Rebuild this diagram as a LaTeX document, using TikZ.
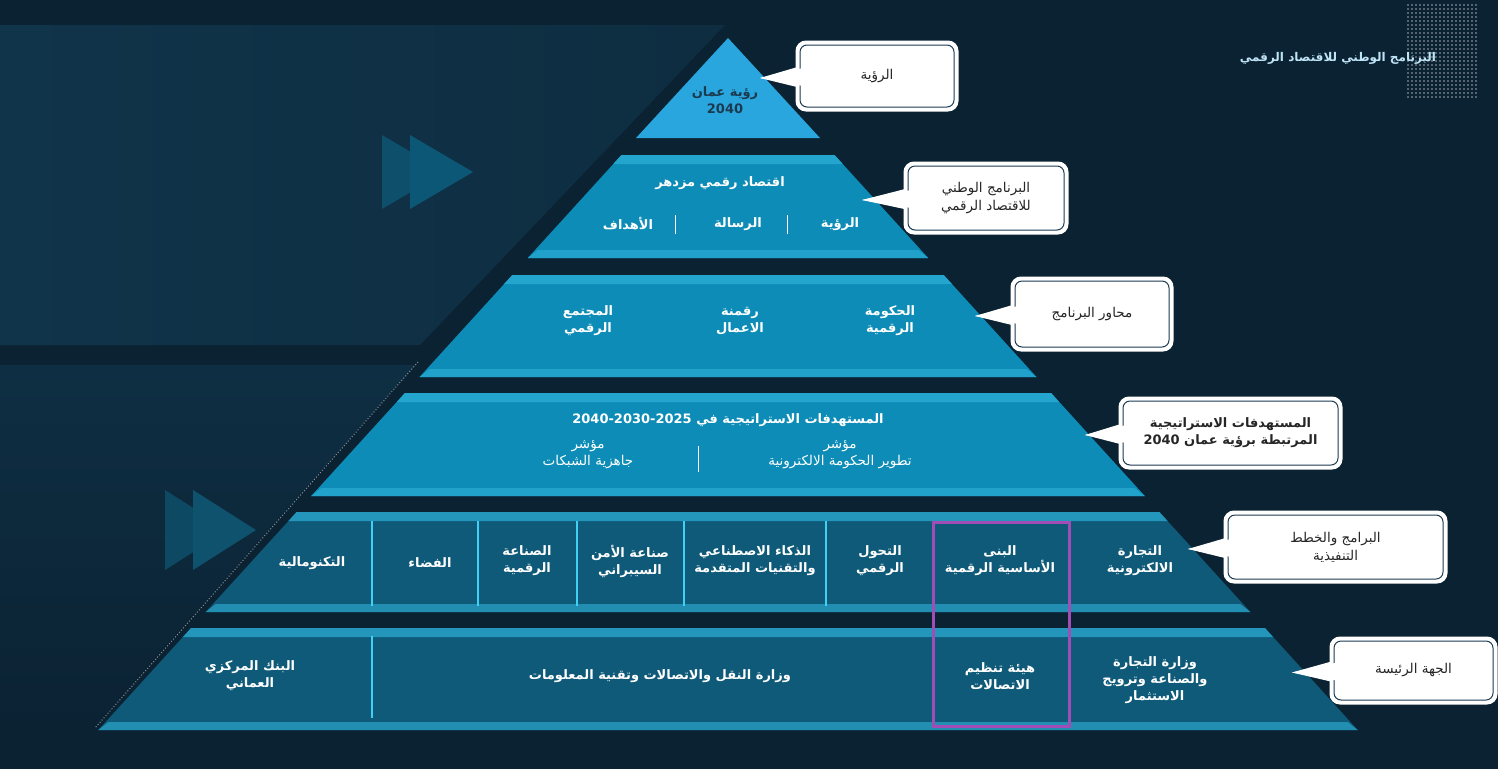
\documentclass[tikz,border=0pt]{standalone}
\usepackage{fontspec}
\setmainfont{DejaVu Sans}
\newfontfamily\arf[Script=Arabic]{DejaVu Sans}
\TeXXeTstate=1
\newcommand\AR[1]{{\arf\beginR #1\endR}}
\definecolor{bg}{HTML}{0B2233}
\definecolor{lv1}{HTML}{29A6DE}
\definecolor{lvA}{HTML}{0C8CB6}
\definecolor{lvB}{HTML}{0B6F93}
\definecolor{lvC}{HTML}{0E5A78}
\definecolor{strip}{HTML}{2FB0D8}
\definecolor{sep}{HTML}{3FD0F5}
\definecolor{cbord}{HTML}{1B3A50}
\definecolor{deco}{HTML}{10344A}
\definecolor{purp}{HTML}{A24DB5}
\begin{document}
\begin{tikzpicture}[x=1pt,y=-1pt,
  lab/.style={text=white,font=\bfseries\fontsize{13}{17}\selectfont,align=center},
  call/.style={fill=white,draw=white,line width=3pt,rounded corners=9pt},
  callin/.style={draw=cbord,line width=1pt,rounded corners=7pt},
  ctext/.style={text=black!85,font=\fontsize{13.5}{18}\selectfont,align=center},
  vsep/.style={draw=sep,line width=2pt}]
\useasboundingbox (0,0) rectangle (1498,769);
\fill[bg] (0,0) rectangle (1498,769);
% decorations
\shade[left color=deco,right color=deco!60!bg] (0,25) -- (725,25) -- (420,345) -- (0,345) -- cycle;
\shade[top color=deco!70!bg,bottom color=bg] (0,365) -- (415,365) -- (95,725) -- (0,725) -- cycle;
\draw[white!50!bg,dotted,line width=1pt] (418,362) -- (95,728);
\fill[lvB!45!deco] (382,135) -- (445,172) -- (382,209) -- cycle;
\fill[lvB!60!deco] (410,135) -- (473,172) -- (410,209) -- cycle;
\fill[lvB!35!deco] (165,490) -- (228,530) -- (165,570) -- cycle;
\fill[lvB!50!deco] (193,490) -- (256,530) -- (193,570) -- cycle;
% dot grid
\foreach \i in {0,...,17}{\foreach \j in {0,...,23}{
  \fill[white!30!bg] (1407+\i*4,4+\j*4) rectangle ++(2,2);}}
\node[text=white!70!lv1,font=\bfseries\fontsize{12}{14}\selectfont] (title) at (1338,58) {\AR{البرنامج الوطني للاقتصاد الرقمي}};
% pyramid levels
\fill[lv1] (728,38) -- (820,138) -- (636,138) -- cycle;
\foreach \t/\b/\c in {155/258/lvA,275/377/lvA,393/496/lvA,512/612/lvC,628/730/lvC}{
  \pgfmathsetmacro\wt{(\t-38)*0.91}\pgfmathsetmacro\wb{(\b-38)*0.91}
  \pgfmathsetmacro\ws{(\t+9-38)*0.91}
  \fill[\c] (728-\wt,\t) -- (728+\wt,\t) -- (728+\wb,\b) -- (728-\wb,\b) -- cycle;
  \fill[strip!70!\c] (728-\wt,\t) -- (728+\wt,\t) -- (728+\ws,\t+9) -- (728-\ws,\t+9) -- cycle;
  \fill[strip!60!\c] (728-\wb+10,\b-8) -- (728+\wb-10,\b-8) -- (728+\wb,\b) -- (728-\wb,\b) -- cycle;
}
% level 1
\node[text=cbord,font=\bfseries\fontsize{13}{17}\selectfont,align=center] (l1) at (725,100) {\AR{رؤية عمان}\\2040};
% level 2
\node[lab] (l2t) at (720,183) {\AR{اقتصاد رقمي مزدهر}};
\node[lab] (l2a) at (840,224) {\AR{الرؤية}};
\node[lab] (l2b) at (738,224) {\AR{الرسالة}};
\node[lab] (l2c) at (628,224) {\AR{الأهداف}};
\draw[white,line width=0.8pt] (787,215) -- (787,234) (675,215) -- (675,234);
% level 3
\node[lab] (l3a) at (890,321) {\AR{الحكومة}\\\AR{الرقمية}};
\node[lab] (l3b) at (740,321) {\AR{رقمنة}\\\AR{الاعمال}};
\node[lab] (l3c) at (588,321) {\AR{المجتمع}\\\AR{الرقمي}};
% level 4
\node[lab] (l4t) at (728,420) {\AR{المستهدفات الاستراتيجية في \hbox{2040-2030-2025}}};
\node[lab,font=\fontsize{13.5}{17}\selectfont] (l4a) at (840,455) {\AR{مؤشر}\\\AR{تطوير الحكومة الالكترونية}};
\node[lab,font=\fontsize{13.5}{17}\selectfont] (l4b) at (588,455) {\AR{مؤشر}\\\AR{جاهزية الشبكات}};
\draw[white,line width=0.8pt] (698,446) -- (698,472);
% level 5 separators
\foreach \x in {372,478,577,684,826,1070}{\draw[vsep] (\x,521) -- (\x,606);}
\draw[vsep] (372,636) -- (372,718);
\draw[vsep] (1070,636) -- (1070,718);
\node[lab] (c1) at (312,563) {\AR{التكنومالية}};
\node[lab] (c2) at (430,563) {\AR{الفضاء}};
\node[lab] (c3) at (527,561) {\AR{الصناعة}\\\AR{الرقمية}};
\node[lab] (c4) at (630,561) {\AR{صناعة الأمن}\\\AR{السيبراني}};
\node[lab] (c5) at (755,561) {\AR{الذكاء الاصطناعي}\\\AR{والتقنيات المتقدمة}};
\node[lab] (c6) at (880,561) {\AR{التحول}\\\AR{الرقمي}};
\node[lab] (c7) at (1000,561) {\AR{البنى}\\\AR{الأساسية الرقمية}};
\node[lab] (c8) at (1140,561) {\AR{التجارة}\\\AR{الالكترونية}};
% level 6
\node[lab] (d1) at (250,676) {\AR{البنك المركزي}\\\AR{العماني}};
\node[lab] (d2) at (660,676) {\AR{وزارة النقل والاتصالات وتقنية المعلومات}};
\node[lab] (d3) at (1000,676) {\AR{هيئة تنظيم}\\\AR{الاتصالات}};
\node[lab] (d4) at (1155,680) {\AR{وزارة التجارة}\\\AR{والصناعة وترويج}\\\AR{الاستثمار}};
\draw[purp,line width=3pt] (933,522) rectangle (1069,726);
% callouts
\foreach \n/\xa/\ya/\xb/\yb/\tx in {1/797/42/957/110/760,2/905/163/1067/233/862,3/1012/278/1172/350/975,4/1120/398/1341/468/1085,5/1225/512/1446/582/1188,6/1331/638/1496/703/1292}{
  \pgfmathsetmacro\ym{(\ya+\yb)/2}
  \fill[white] (\xa+4,\ym-10) -- (\tx,\ym+2) -- (\xa+4,\ym+12) -- cycle;
  \draw[call] (\xa,\ya) rectangle (\xb,\yb);
  \draw[callin] (\xa+3,\ya+3) rectangle (\xb-3,\yb-3);
  \fill[white] (\xa+6,\ym-8) -- (\tx,\ym+2) -- (\xa+6,\ym+10) -- cycle;
  \coordinate (k\n) at ({(\xa+\xb)/2},\ym);
}
\node[ctext] (t1) at (k1) {\AR{الرؤية}};
\node[ctext] (t2) at (k2) {\AR{البرنامج الوطني}\\\AR{للاقتصاد الرقمي}};
\node[ctext] (t3) at (k3) {\AR{محاور البرنامج}};
\node[ctext,font=\bfseries\fontsize{13}{17}\selectfont] (t4) at (k4) {\AR{المستهدفات الاستراتيجية}\\\AR{المرتبطة برؤية عمان \hbox{2040}}};
\node[ctext] (t5) at (k5) {\AR{البرامج والخطط}\\\AR{التنفيذية}};
\node[ctext] (t6) at (k6) {\AR{الجهة الرئيسة}};
\end{tikzpicture}
\end{document}
